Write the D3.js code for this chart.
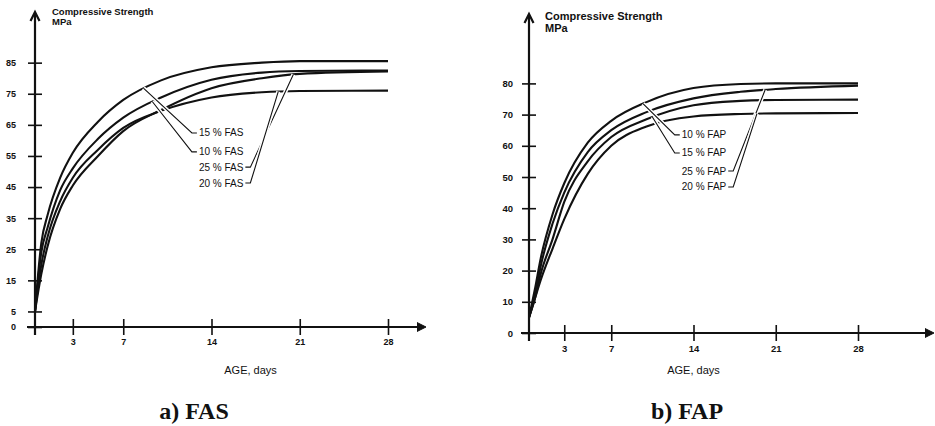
<!DOCTYPE html>
<html>
<head>
<meta charset="utf-8">
<script src="https://cdn.jsdelivr.net/npm/d3@7"></script>
<style>
  body { margin: 0; background: #fff; }
  svg { display: block; }
  .tick text { font-family: "Liberation Sans Narrow", "Liberation Sans", Arial, sans-serif; font-weight: bold; fill: #111; }
  .lab { font-family: "Liberation Sans Narrow", "Liberation Sans", Arial, sans-serif; fill: #111; }
  .cap { font-family: "Liberation Serif", "Times New Roman", serif; font-weight: bold; fill: #111; }
</style>
</head>
<body>
<svg id="chart" width="935" height="426"></svg>
<script>
const days = [0, 0.5, 1, 2, 3, 5, 7, 10, 14, 18, 21, 28];
const ageTicks = [3, 7, 14, 21, 28];

// a) FAS, compressive strength MPa
const fasTicks = [0, 5, 15, 25, 35, 45, 55, 65, 75, 85];
const fas15 = [5, 27, 36, 48, 56, 66, 73, 79.3, 83.5, 85, 85.5, 85.5];
const fas10 = [5, 24, 32, 44, 51, 60.5, 67.3, 73.8, 79.5, 81.8, 82.3, 82.5];
const fas20 = [5, 20, 29, 40.5, 48, 57, 64, 69.5, 73.8, 75.5, 75.9, 76];
const fas25 = [5, 17, 26, 38, 45.5, 55, 63, 69.8, 76.8, 80, 81.4, 82.2];

// b) FAP
const fapTicks = [0, 10, 20, 30, 40, 50, 60, 70, 80];
const fap10 = [5, 14, 24, 38, 48, 61, 68, 74, 78.5, 79.8, 80, 80];
const fap25 = [5, 12, 21.5, 35, 45, 58, 65, 70.8, 75.2, 77.3, 78.2, 79.3];
const fap15 = [5, 11, 19, 30, 42, 55, 62.8, 68.5, 73, 74.4, 74.7, 74.8];
const fap20 = [5, 11, 17, 27, 36.5, 51, 60, 66.2, 69.4, 70.2, 70.4, 70.5];

const svg = d3.select("#chart");

function drawPanel(p) {
  const x = d3.scaleLinear().domain([0, 28]).range([p.x0, p.x28]);
  const y = d3.scaleLinear().domain([0, p.yTop]).range([p.y0, p.y0 - p.yTop * p.pxPerUnit]);
  const g = svg.append("g");

  // curves
  const line = d3.line().x((d, i) => x(days[i])).y(d => y(d)).curve(d3.curveMonotoneX);
  const paths = p.series.map(s =>
    g.append("path").datum(s.values)
      .attr("d", line)
      .attr("fill", "none")
      .attr("stroke", "#111")
      .attr("stroke-width", 2.1)
      .node());

  // point on a curve at a given age
  function onCurve(node, day) {
    const tx = x(day);
    let lo = 0, hi = node.getTotalLength();
    for (let k = 0; k < 30; k++) {
      const mid = (lo + hi) / 2;
      if (node.getPointAtLength(mid).x < tx) lo = mid; else hi = mid;
    }
    return node.getPointAtLength(lo);
  }

  // labels and leaders
  p.series.forEach((s, i) => {
    const lx = x(p.labelDay), ly = y(s.labelAt);
    const t = g.append("text").attr("class", "lab")
      .attr("x", lx).attr("y", ly).attr("dy", "0.35em")
      .attr("font-size", p.labelSize)
      .text(s.name);
    const w = t.node().getComputedTextLength();
    const tgt = onCurve(paths[i], s.leaderDay);
    let pts;
    if (s.side === "left") {
      pts = [[lx - 2, ly], [lx - 7, ly], [tgt.x, tgt.y]];
    } else {
      pts = [[lx + w + 2, ly], [lx + w + 7, ly], [tgt.x, tgt.y]];
    }
    const lp = d3.line()(pts);
    g.insert("path", "text").attr("d", lp).attr("fill", "none").attr("stroke", "#fff").attr("stroke-width", 4);
    g.insert("path", "text").attr("d", lp).attr("fill", "none").attr("stroke", "#111").attr("stroke-width", 1.1);
  });

  // y axis
  const ya = g.append("g").attr("transform", `translate(${p.x0},0)`)
    .call(d3.axisLeft(y).tickValues(p.yTicks).tickSize(7).tickPadding(p.yPad));
  ya.select(".domain").remove();
  ya.selectAll(".tick line").attr("x1", 7).attr("stroke", "#111").attr("stroke-width", 1.6);
  ya.selectAll(".tick text").attr("font-size", p.tickSize);

  // x axis
  const xa = g.append("g").attr("transform", `translate(0,${p.y0})`)
    .call(d3.axisBottom(x).tickValues(ageTicks).tickSize(8).tickPadding(4));
  xa.select(".domain").remove();
  xa.selectAll(".tick line").attr("y1", -8).attr("stroke", "#111").attr("stroke-width", 1.6);
  xa.selectAll(".tick text").attr("font-size", p.tickSize);

  // axis lines with arrows
  g.append("line").attr("x1", p.x0).attr("x2", p.x0).attr("y1", p.y0 + 8).attr("y2", p.yArrow + 2)
    .attr("stroke", "#111").attr("stroke-width", 2.2);
  g.append("path").attr("d", `M${p.x0 - 4.5},${p.yArrow + 9} L${p.x0},${p.yArrow} L${p.x0 + 4.5},${p.yArrow + 9}`)
    .attr("fill", "none").attr("stroke", "#111").attr("stroke-width", 2.2);
  g.append("line").attr("x1", p.x0 - 8).attr("x2", p.xArrow - 2).attr("y1", p.y0).attr("y2", p.y0)
    .attr("stroke", "#111").attr("stroke-width", 2.2);
  g.append("path").attr("d", `M${p.xArrow - 9},${p.y0 - 4.5} L${p.xArrow},${p.y0} L${p.xArrow - 9},${p.y0 + 4.5}`)
    .attr("fill", "#111").attr("stroke", "#111").attr("stroke-width", 1);

  // titles
  g.append("text").attr("class", "lab").attr("x", p.x0 + p.titleDx).attr("y", p.titleY)
    .attr("font-size", p.titleSize).attr("font-weight", "bold").text("Compressive Strength");
  g.append("text").attr("class", "lab").attr("x", p.x0 + p.titleDx).attr("y", p.titleY + p.titleSize * 1.1)
    .attr("font-size", p.titleSize).attr("font-weight", "bold").text("MPa");

  g.append("text").attr("class", "lab").attr("x", x(p.xLabelDay)).attr("y", 374)
    .attr("text-anchor", "middle").attr("font-size", 11).text("AGE, days");

  g.append("text").attr("class", "cap").attr("x", p.capX).attr("y", 419)
    .attr("text-anchor", "middle").attr("font-size", 24).text(p.caption);
}

drawPanel({
  x0: 35, x28: 388, y0: 327, pxPerUnit: 3.11, yTop: 85, yTicks: fasTicks,
  yArrow: 12, xArrow: 426, yPad: 12, tickSize: 9, labelSize: 10,
  titleDx: 17, titleY: 15, titleSize: 9.5, xLabelDay: 17.1, capX: 194,
  labelDay: 13.0, caption: "a) FAS",
  series: [
    { name: "15 % FAS", values: fas15, labelAt: 62.4, leaderDay: 8.6, side: "left" },
    { name: "10 % FAS", values: fas10, labelAt: 56.3, leaderDay: 9.3, side: "left" },
    { name: "25 % FAS", values: fas25, labelAt: 51.4, leaderDay: 20.5, side: "right" },
    { name: "20 % FAS", values: fas20, labelAt: 46.3, leaderDay: 19.3, side: "right" }
  ]
});

drawPanel({
  x0: 529, x28: 858, y0: 333, pxPerUnit: 3.12, yTop: 80, yTicks: fapTicks,
  yArrow: 14, xArrow: 934, yPad: 9, tickSize: 9.5, labelSize: 10,
  titleDx: 16, titleY: 20, titleSize: 11, xLabelDay: 14, capX: 687,
  labelDay: 13.0, caption: "b) FAP",
  series: [
    { name: "10 % FAP", values: fap10, labelAt: 63.5, leaderDay: 9.7, side: "left" },
    { name: "15 % FAP", values: fap15, labelAt: 57.7, leaderDay: 10.5, side: "left" },
    { name: "25 % FAP", values: fap25, labelAt: 51.9, leaderDay: 20.1, side: "right" },
    { name: "20 % FAP", values: fap20, labelAt: 46.8, leaderDay: 19.4, side: "right" }
  ]
});
</script>
</body>
</html>
